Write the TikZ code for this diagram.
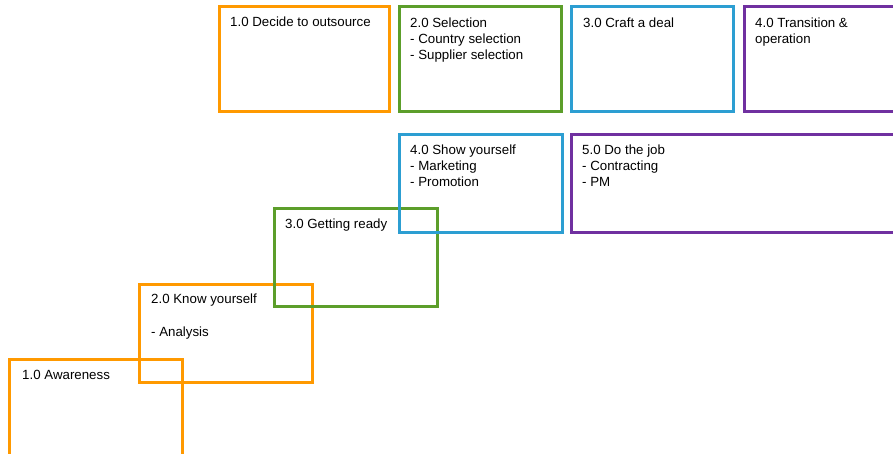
\documentclass[tikz,border=0pt]{standalone}
\usepackage{fontspec}
\setmainfont{Liberation Sans}
\usetikzlibrary{calc}
\definecolor{orng}{RGB}{255,153,0}
\definecolor{grn}{RGB}{92,158,42}
\definecolor{blu}{RGB}{44,158,210}
\definecolor{prp}{RGB}{112,48,160}
\begin{document}
\begin{tikzpicture}[x=1pt,y=-1pt,
  box/.style={draw=#1,line width=3pt,fill=none},
  txt/.style={anchor=north west,inner sep=0pt,align=left,font=\fontsize{13.3}{16}\selectfont,text=black}]
\useasboundingbox (0,0) rectangle (893,454);
\clip (0,0) rectangle (893,454);
% lower staircase
\draw[box=orng] (9,359) rectangle (182,480);
\coordinate (s1) at (9,359);
\draw[box=orng] (139,284) rectangle (312,382);
\coordinate (s2) at (139,284);
\draw[box=grn] (274,209) rectangle (437,306);
\coordinate (s3) at (274,209);
\draw[box=blu] (399,135) rectangle (562,233);
\coordinate (s4) at (399,135);
\draw[box=prp] (571,135) rectangle (920,233);
\coordinate (s5) at (571,135);
% top row
\draw[box=orng] (219,7) rectangle (389,112);
\coordinate (b1) at (219,7);
\draw[box=grn] (399,7) rectangle (561,112);
\coordinate (b2) at (399,7);
\draw[box=blu] (571,7) rectangle (733,112);
\coordinate (b3) at (571,7);
\draw[box=prp] (744,7) rectangle (920,112);
\coordinate (b4) at (744,7);
% texts
\node[txt] (tb1) at ($(b1)+(11,9)$) {\rule{0pt}{10pt}1.0 Decide to outsource};
\node[txt] (tb2) at ($(b2)+(11,10)$) {\rule{0pt}{10pt}2.0 Selection\\- Country selection\\- Supplier selection};
\node[txt] (tb3) at ($(b3)+(12,10)$) {\rule{0pt}{10pt}3.0 Craft a deal};
\node[txt] (tb4) at ($(b4)+(11,10)$) {\rule{0pt}{10pt}4.0 Transition \&\\operation};
\node[txt] (ts4) at ($(s4)+(11,9)$) {\rule{0pt}{10pt}4.0 Show yourself\\- Marketing\\- Promotion};
\node[txt] (ts5) at ($(s5)+(11,9)$) {\rule{0pt}{10pt}5.0 Do the job\\- Contracting\\- PM};
\node[txt] (ts3) at ($(s3)+(11,9)$) {\rule{0pt}{10pt}3.0 Getting ready};
\node[txt] (ts2) at ($(s2)+(12,9)$) {\rule{0pt}{10pt}2.0 Know yourself\\[17pt]- Analysis};
\node[txt] (ts1) at ($(s1)+(13,10)$) {\rule{0pt}{10pt}1.0 Awareness};
\end{tikzpicture}
\end{document}
